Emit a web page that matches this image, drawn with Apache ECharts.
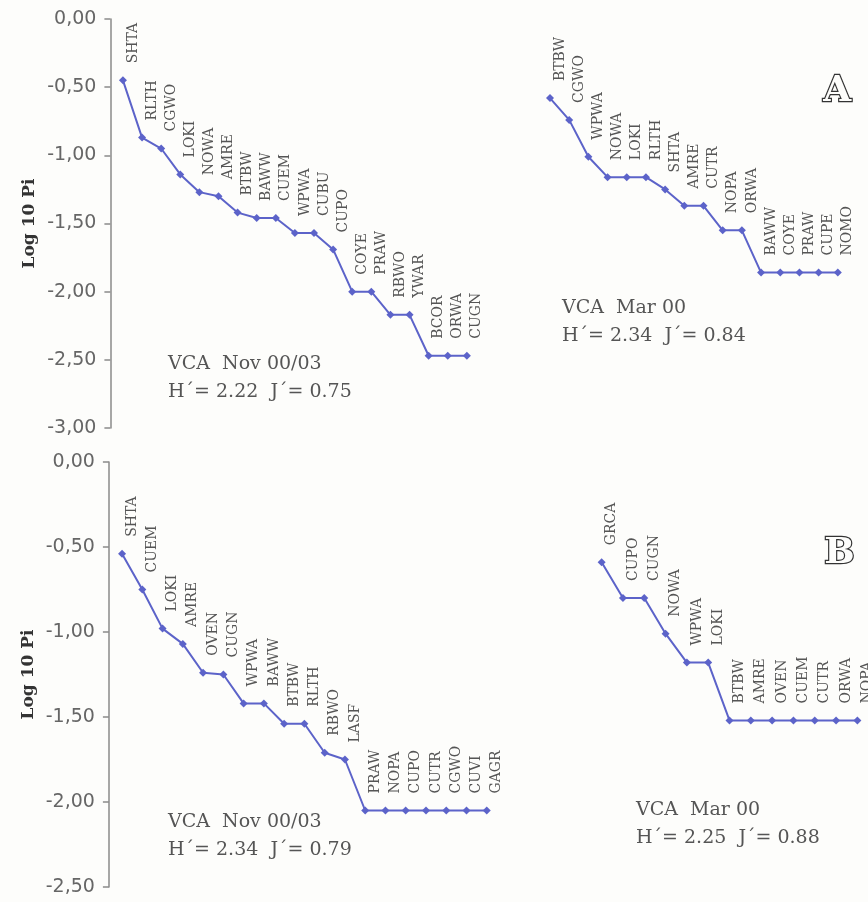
<!DOCTYPE html>
<html>
<head>
<meta charset="utf-8">
<script src="https://cdn.jsdelivr.net/npm/echarts@6/dist/echarts.min.js"></script>
<style>
  html, body { margin: 0; padding: 0; background: #fdfdfb; }
  #main { width: 868px; height: 902px; }
</style>
</head>
<body>
<div id="main"></div>
<script>
// panel A, Nov 00/03
var topLeftNames = ['SHTA', 'RLTH', 'CGWO', 'LOKI', 'NOWA', 'AMRE', 'BTBW', 'BAWW', 'CUEM', 'WPWA',
  'CUBU', 'CUPO', 'COYE', 'PRAW', 'RBWO', 'YWAR', 'BCOR', 'ORWA', 'CUGN'];
var topLeftVals = [-0.45, -0.87, -0.95, -1.14, -1.27, -1.30, -1.42, -1.46, -1.46, -1.57,
  -1.57, -1.69, -2.00, -2.00, -2.17, -2.17, -2.47, -2.47, -2.47];

// panel A, Mar 00
var topRightNames = ['BTBW', 'CGWO', 'WPWA', 'NOWA', 'LOKI', 'RLTH', 'SHTA', 'AMRE', 'CUTR', 'NOPA',
  'ORWA', 'BAWW', 'COYE', 'PRAW', 'CUPE', 'NOMO'];
var topRightVals = [-0.58, -0.74, -1.01, -1.16, -1.16, -1.16, -1.25, -1.37, -1.37, -1.55,
  -1.55, -1.86, -1.86, -1.86, -1.86, -1.86];

// panel B, Nov 00/03
var bottomLeftNames = ['SHTA', 'CUEM', 'LOKI', 'AMRE', 'OVEN', 'CUGN', 'WPWA', 'BAWW', 'BTBW', 'RLTH',
  'RBWO', 'LASF', 'PRAW', 'NOPA', 'CUPO', 'CUTR', 'CGWO', 'CUVI', 'GAGR'];
var bottomLeftVals = [-0.54, -0.75, -0.98, -1.07, -1.24, -1.25, -1.42, -1.42, -1.54, -1.54,
  -1.71, -1.75, -2.05, -2.05, -2.05, -2.05, -2.05, -2.05, -2.05];

// panel B, Mar 00
var bottomRightNames = ['GRCA', 'CUPO', 'CUGN', 'NOWA', 'WPWA', 'LOKI', 'BTBW', 'AMRE', 'OVEN', 'CUEM',
  'CUTR', 'ORWA', 'NOPA'];
var bottomRightVals = [-0.59, -0.80, -0.80, -1.01, -1.18, -1.18, -1.52, -1.52, -1.52, -1.52,
  -1.52, -1.52, -1.52];

var lineColor = '#5c63c9';
var textGray = '#555';

function tickFmt(v) {
  return v.toFixed(2).replace('.', ',');
}

// y轴（可见/隐藏）
function makeY(gridIndex, min, visible) {
  return {
    type: 'value',
    gridIndex: gridIndex,
    min: min,
    max: 0,
    interval: 0.5,
    show: visible,
    offset: 3,
    name: visible ? 'Log 10 Pi' : '',
    nameLocation: 'middle',
    nameRotate: 90,
    nameGap: 72,
    nameTextStyle: {
      fontFamily: 'DejaVu Serif',
      fontWeight: 'bold',
      fontSize: 17,
      color: '#333'
    },
    axisLine: { show: true, lineStyle: { color: '#8a8a8a', width: 1.5 } },
    axisTick: { show: true, length: 6, lineStyle: { color: '#8a8a8a', width: 1.5 } },
    splitLine: { show: false },
    axisLabel: {
      formatter: tickFmt,
      fontFamily: 'DejaVu Sans',
      fontSize: 19,
      color: '#666',
      margin: 14
    }
  };
}

function makeX(gridIndex, names) {
  return {
    type: 'category',
    gridIndex: gridIndex,
    data: names,
    show: false,
    boundaryGap: true
  };
}

function makeSeries(idx, vals) {
  return {
    type: 'line',
    xAxisIndex: idx,
    yAxisIndex: idx,
    data: vals,
    symbol: 'diamond',
    symbolSize: 8,
    lineStyle: { color: lineColor, width: 2 },
    itemStyle: { color: lineColor },
    label: {
      show: true,
      position: 'top',
      distance: 13,
      rotate: 90,
      align: 'left',
      verticalAlign: 'middle',
      offset: [0, 10],
      fontFamily: 'DejaVu Serif',
      fontSize: 14,
      color: textGray,
      formatter: function (p) { return p.name; }
    }
  };
}

function note(x, y, lines) {
  return {
    type: 'text',
    left: x,
    top: y,
    style: {
      text: lines.join('\n'),
      font: '19px "DejaVu Serif"',
      fill: textGray,
      lineHeight: 28
    }
  };
}

function letter(x, y, ch) {
  return {
    type: 'text',
    left: x,
    top: y,
    style: {
      text: ch,
      font: 'bold 36px "DejaVu Serif"',
      fill: '#fdfdfb',
      stroke: '#333',
      lineWidth: 2.4
    }
  };
}

var chart = echarts.init(document.getElementById('main'));

var option = {
  backgroundColor: '#fdfdfb',
  animation: false,
  grid: [
    { left: 113.4, width: 363, top: 19, height: 409 },
    { left: 540.4, width: 307, top: 19, height: 409 },
    { left: 111.9, width: 385, top: 462, height: 425 },
    { left: 591, width: 283, top: 462, height: 425 }
  ],
  xAxis: [
    makeX(0, topLeftNames),
    makeX(1, topRightNames),
    makeX(2, bottomLeftNames),
    makeX(3, bottomRightNames)
  ],
  yAxis: [
    makeY(0, -3, true),
    makeY(1, -3, false),
    makeY(2, -2.5, true),
    makeY(3, -2.5, false)
  ],
  series: [
    makeSeries(0, topLeftVals),
    makeSeries(1, topRightVals),
    makeSeries(2, bottomLeftVals),
    makeSeries(3, bottomRightVals)
  ],
  graphic: [
    note(168, 350, ['VCA  Nov 00/03', 'H\u00b4= 2.22  J\u00b4= 0.75']),
    note(562, 294, ['VCA  Mar 00', 'H\u00b4= 2.34  J\u00b4= 0.84']),
    note(168, 808, ['VCA  Nov 00/03', 'H\u00b4= 2.34  J\u00b4= 0.79']),
    note(636, 796, ['VCA  Mar 00', 'H\u00b4= 2.25  J\u00b4= 0.88']),
    letter(822, 72, 'A'),
    letter(823, 534, 'B')
  ]
};

chart.setOption(option);
</script>
</body>
</html>
